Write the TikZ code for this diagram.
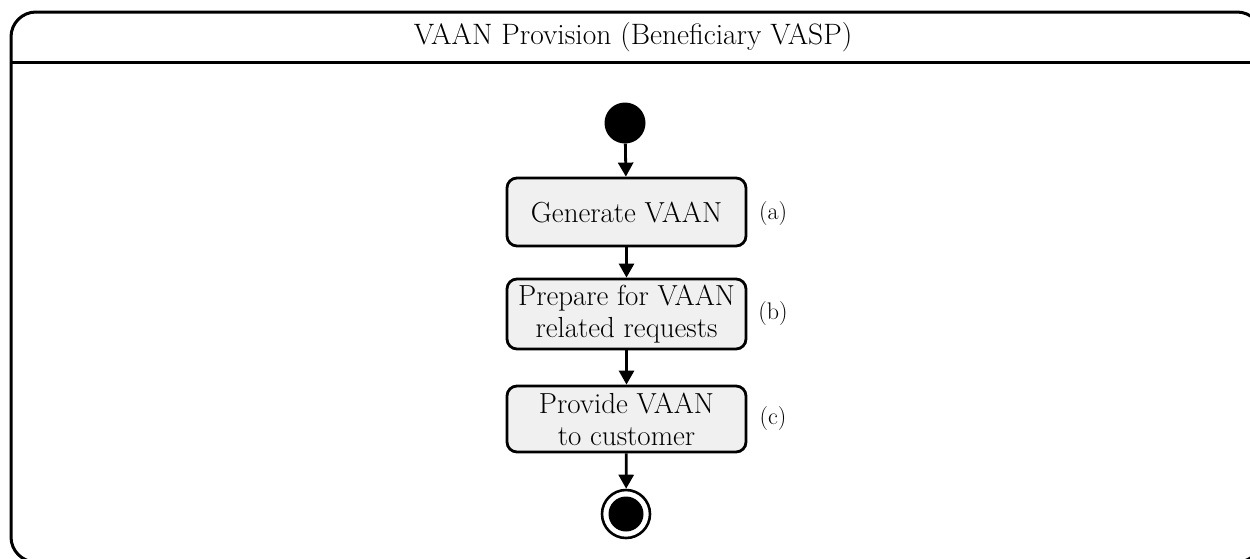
\documentclass[tikz,border=0pt]{standalone}
\usepackage{fontspec}
\usetikzlibrary{arrows.meta}

\tikzset{
  flow/.style={line width=2.8pt, -{Triangle[width=15pt,length=14pt]}},
  actbox/.style={draw, line width=2.8pt, rounded corners=10pt, fill=black!6,
    minimum width=239pt, align=center,
    font=\fontsize{29}{32}\selectfont, inner sep=0pt},
  steplabel/.style={font=\fontsize{24}{26}\selectfont, inner sep=0pt},
}

\begin{document}
\begin{tikzpicture}[x=1pt, y=-1pt]
  \useasboundingbox (0,0) rectangle (1250,558);
  \clip (0,0) rectangle (1250,558);

  % activity frame with title compartment
  \draw[line width=3pt, rounded corners=25pt] (11,12) rectangle (1262,562);
  \draw[line width=3pt] (11,62) -- (1262,62);
  \node[font=\fontsize{29.5}{32}\selectfont] (title) at (633,37) {VAAN Provision (Beneficiary VASP)};

  % initial node
  \node[circle, fill=black, minimum size=41pt, inner sep=0pt] (start) at (625,123) {};

  % actions
  \node[actbox, minimum height=68pt] (gen) at (626.5,212) {Generate VAAN};
  \node[actbox, minimum height=70pt] (prep) at (626.5,314) {Prepare for VAAN\\related requests};
  \node[actbox, minimum height=66pt] (prov) at (626.5,419) {Provide VAAN\\to customer};

  % final node
  \node[circle, draw, line width=2.6pt, fill=white, minimum size=48pt, inner sep=0pt] (finish) at (626,514) {};
  \node[circle, fill=black, minimum size=35pt, inner sep=0pt] (finishdot) at (finish.center) {};

  % step labels
  \node[steplabel] (la) at (773,214) {(a)};
  \node[steplabel] (lb) at (773,314) {(b)};
  \node[steplabel] (lc) at (773,419) {(c)};

  % control flow
  \draw[flow] (start) -- (gen);
  \draw[flow] (gen) -- (prep);
  \draw[flow] (prep) -- (prov);
  \draw[flow] (prov) -- (finish);
\end{tikzpicture}
\end{document}
